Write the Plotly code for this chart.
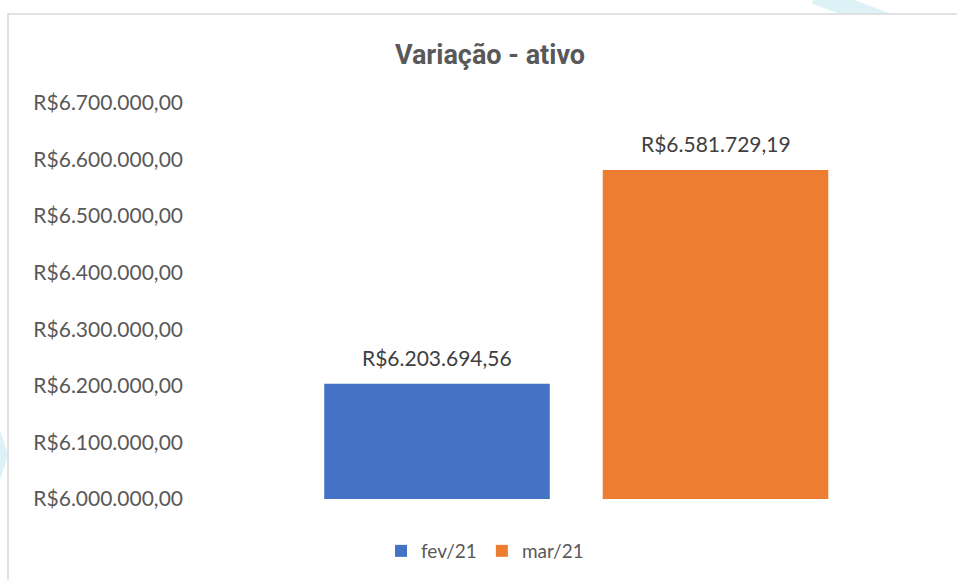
import plotly.graph_objects as go

categories = ["fev/21", "mar/21"]
values = [6203694.56, 6581729.19]
colors = ["#4472C4", "#ED7D31"]
tick_values = [6000000, 6100000, 6200000, 6300000, 6400000, 6500000, 6600000, 6700000]


def brl(v):
    s = f"{v:,.2f}"
    s = s.replace(",", "X").replace(".", ",").replace("X", ".")
    return "R$" + s


W, H = 957, 580
FONT = "Lato"
GREY = "#595959"

fig = go.Figure()
for cat, val, col in zip(categories, values, colors):
    fig.add_trace(go.Bar(
        x=[cat], y=[val], name=cat,
        marker=dict(color=col, line=dict(width=0)),
    ))

annotations = [
    dict(x=cat, y=val, xref="x", yref="y", text=brl(val), showarrow=False,
         xanchor="center", yanchor="bottom", yshift=12,
         font=dict(family=FONT, size=21, color="#404040"))
    for cat, val in zip(categories, values)
]


def px(x):
    return x / W


def py(y):
    return 1 - y / H


x_left, x_right = 190, 900
c0, c1 = 437, 715.5
unit = c1 - c0
xr = [0 - (c0 - x_left) / unit, 1 + (x_right - c1) / unit]

fig.update_layout(
    width=W, height=H,
    margin=dict(l=0, r=0, t=0, b=0, autoexpand=False),
    paper_bgcolor="white", plot_bgcolor="rgba(0,0,0,0)",
    barmode="overlay", bargap=0.19,
    title=dict(text="<b>Variação - ativo</b>", x=px(490), y=py(55),
               xanchor="center", yanchor="middle", xref="paper", yref="paper",
               font=dict(family="Liberation Sans Narrow, Arial Narrow, Roboto", size=27,
                         color=GREY)),
    xaxis=dict(domain=[px(x_left), px(x_right)], range=xr, showticklabels=False,
               showgrid=False, zeroline=False, showline=False, ticks=""),
    yaxis=dict(domain=[py(499), py(103)], range=[6000000, 6700000],
               tickvals=tick_values, ticktext=[brl(v) for v in tick_values],
               showgrid=False, zeroline=False, showline=False, ticks="",
               tickfont=dict(family=FONT, size=21, color=GREY), ticklabelstandoff=6),
    legend=dict(orientation="h", x=px(485), y=py(551), xanchor="center", yanchor="middle",
                font=dict(family=FONT, size=19, color=GREY), itemwidth=30,
                traceorder="normal"),
    annotations=annotations,
    shapes=[
        dict(type="line", xref="paper", yref="paper", x0=px(815), y0=py(-5), x1=px(895), y1=py(25),
             line=dict(color="#dcf2f6", width=18), layer="below"),
        dict(type="path", xref="paper", yref="paper",
             path=f"M {px(0)},{py(430)} L {px(8)},{py(455)} L {px(0)},{py(480)} Z",
             fillcolor="#dcf2f6", line=dict(width=0), layer="below"),
        dict(type="rect", xref="paper", yref="paper", x0=px(8), y0=py(14), x1=px(965), y1=py(590),
             fillcolor="white", line=dict(color="#d9d9d9", width=1.5), layer="below"),
    ],
)

fig.write_html("out.html")
